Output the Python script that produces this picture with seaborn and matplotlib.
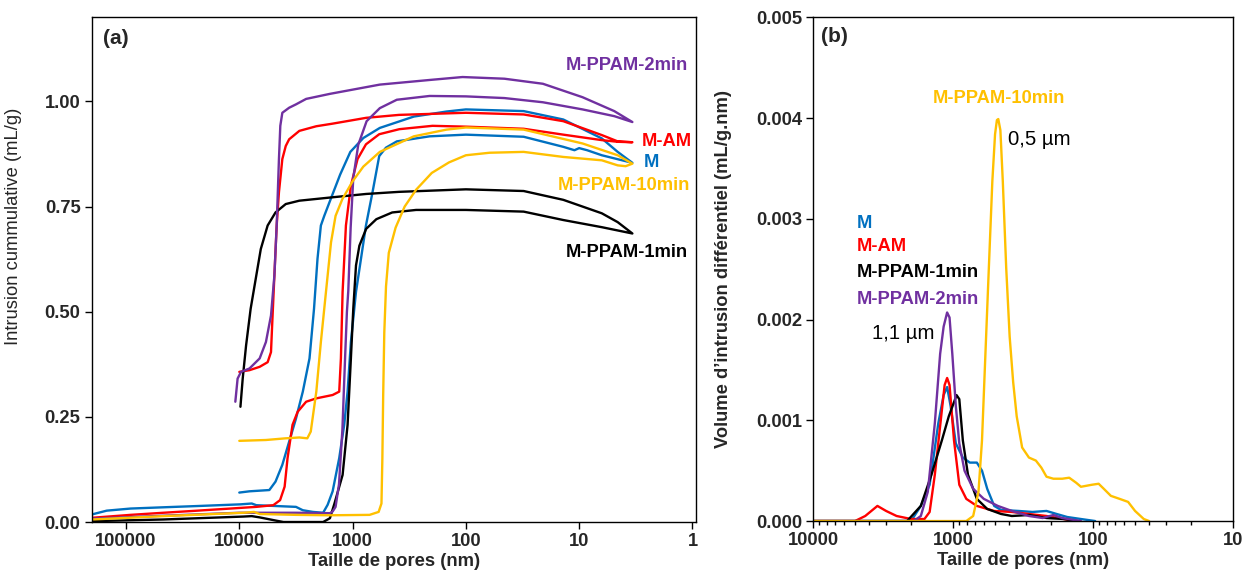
import numpy as np
import pandas as pd
import matplotlib
matplotlib.use("Agg")
import matplotlib.pyplot as plt
import matplotlib.ticker as mticker
import seaborn as sns

# ---------------- data ----------------
samples = ["M", "M-AM", "M-PPAM-1min", "M-PPAM-2min", "M-PPAM-10min"]
colors = ["#0070C0", "#FF0000", "#000000", "#7030A0", "#FFC000"]

# Panel (a) cumulative intrusion (mL/g) vs pore size (nm); intrusion branch then extrusion branch
M_intr_size = [200000, 148000, 91200, 46800, 23400, 9770, 7760, 7080, 3160, 2750, 2240, 1820, 1660, 1500, 1312, 1186,
               1107, 1035, 933, 843, 762, 667, 582, 508, 407, 209, 100, 30.9, 13.8, 11.0, 10.0, 8.51, 6.31, 3.39]
M_intr_val = [.018, .027, .032, .035, .038, .042, .044, .040, .036, .028, .024, .022, .041, .073, .152, .231,
              .31, .428, .547, .626, .705, .784, .87, .89, .905, .917, .921, .916, .892, .884, .889, .884, .872, .854]
M_extr_size = [4.57, 6.31, 13.8, 30.9, 100, 148, 288, 575, 804, 1047, 1288, 1585, 1778, 1905, 2040, 2190, 2400,
               2750, 3160, 3630, 4170, 4790, 5430, 8130, 10000]
M_extr_val = [.88, .912, .957, .977, .981, .976, .964, .937, .913, .88, .826, .763, .728, .705, .626, .507, .389,
              .31, .246, .191, .136, .096, .076, .073, .07]

AM_intr_size = [200000, 91200, 46800, 23400, 12000, 7080, 5010, 4365, 3980, 3750, 3390, 3055, 2570, 2090, 1500, 1312,
                1268, 1225, 1145, 1035, 904, 762, 582, 387, 197, 100, 30.9, 13.8, 6.31, 4.57, 3.39]
AM_intr_val = [.010, .017, .022, .027, .032, .036, .040, .052, .084, .152, .231, .262, .286, .294, .302, .31,
               .389, .547, .705, .80, .863, .898, .922, .934, .942, .94, .935, .921, .908, .904, .903]
AM_extr_size = [4.57, 6.31, 13.8, 30.9, 100, 389, 759, 1514, 2090, 2950, 3630, 3890, 4170, 4467, 4677, 4900, 5130,
                5250, 5620, 6610, 8130, 10000]
AM_extr_val = [.905, .92, .953, .969, .973, .968, .961, .947, .941, .93, .91, .894, .863, .784, .705, .586, .467,
               .404, .38, .369, .361, .357]

P1_intr_size = [200000, 46800, 9120, 7760, 6610, 4677, 4074, 1820, 1585, 1445, 1225, 1107, 1035, 986, 933, 871, 759,
                617, 447, 275, 100, 30.9, 13.8, 6.31, 3.39]
P1_intr_val = [.002, .006, .013, .014, .011, .003, 0, 0, .009, .044, .112, .231, .389, .507, .61, .657, .697,
               .72, .736, .742, .742, .738, .718, .701, .686]
P1_extr_size = [4.57, 6.31, 13.8, 30.9, 100, 389, 759, 1514, 2950, 3890, 4790, 5620, 6460, 7080, 7940, 8710, 9330, 9770]
P1_extr_val = [.713, .734, .766, .787, .791, .785, .78, .772, .764, .756, .736, .705, .649, .586, .507, .42, .341, .274]

P2_intr_size = [200000, 46800, 10000, 3160, 1585, 1500, 1413, 1318, 1230, 1161, 1122, 1091, 1040, 986, 891, 752, 575,
                407, 209, 100, 45.7, 20.9, 9.33, 4.9, 3.39]
P2_intr_val = [.008, .015, .022, .022, .021, .025, .036, .09, .22, .40, .50, .55, .70, .818, .897, .953, .984,
               1.004, 1.013, 1.012, 1.008, .998, .981, .965, .951]
P2_extr_size = [4.9, 9.33, 20.9, 45.7, 107, 209, 575, 1585, 2570, 3160, 3630, 4170, 4345, 4467, 4677, 4900, 5250,
                5820, 6610, 8130, 9660, 10350, 10840]
P2_extr_val = [.977, 1.01, 1.042, 1.054, 1.058, 1.051, 1.04, 1.018, 1.006, .993, .985, .973, .942, .863, .705, .586,
               .491, .428, .389, .365, .357, .341, .286]

P10_intr_size = [200000, 46800, 9120, 7410, 6610, 3160, 1585, 708, 589, 556, 546, 537, 525, 507, 479, 417, 347, 275,
                 200, 141, 100, 61.7, 30.9, 13.8, 6.31, 4.57, 3.89, 3.39]
P10_intr_val = [.006, .014, .022, .024, .019, .017, .016, .017, .024, .044, .15, .30, .45, .56, .64, .70, .75, .79,
                .83, .855, .872, .878, .88, .868, .86, .848, .846, .852]
P10_extr_size = [4.57, 9.33, 30.9, 100, 148, 288, 575, 804, 1000, 1230, 1413, 1550, 1718, 1905, 2090, 2340, 2510,
                 2950, 3890, 5820, 10000]
P10_extr_val = [.872, .90, .933, .938, .933, .917, .88, .845, .81, .768, .728, .665, .547, .428, .31, .215, .199,
                .201, .199, .195, .193]

# Panel (b) differential intrusion (mL/g.nm) vs pore size (nm)
M_diff_size = [10000, 1995, 1698, 1469, 1274, 1167, 1102, 1040, 955, 851, 759, 676, 621, 570, 508, 454, 340, 271,
               215, 182, 153, 122, 96.6]
M_diff_val = [0, 0, .00015, .00036, .00097, .00125, .00133, .00114, .00077, .00063, .00058, .00058, .0005, .00032,
              .00015, .00011, .0001, .00009, .0001, .00007, .00004, .00002, 0]
AM_diff_size = [10000, 5010, 4236, 3467, 3006, 2530, 1995, 1600, 1469, 1349, 1230, 1148, 1102, 1059, 984, 902, 804,
                676, 508, 380, 287, 215, 162, 136]
AM_diff_val = [0, 0, .00005, .00015, .0001, .00005, .00002, .00002, .00009, .00046, .00097, .00135, .00142, .00135,
               .0008, .00036, .00022, .00015, .0001, .00009, .00007, .00005, .00002, 0]
P1_diff_size = [10000, 2128, 1698, 1426, 1202, 1072, 984, 944, 902, 851, 782, 676, 570, 454, 380, 287, 215, 162, 129]
P1_diff_val = [0, 0, .00015, .00046, .0008, .00104, .00118, .00125, .00121, .0008, .00046, .00022, .00012, .00007,
               .00005, .00006, .00003, .00002, 0]
P2_diff_size = [10000, 1905, 1698, 1514, 1349, 1236, 1167, 1102, 1059, 1012, 955, 902, 828, 718, 603, 479, 380, 287,
                229, 192, 166, 136, 122]
P2_diff_val = [0, 0, .00005, .00029, .00097, .00166, .00193, .00207, .00202, .00166, .00114, .00077, .0005, .00032,
               .00022, .00015, .0001, .00005, .00003, .00006, .00003, .00001, 0]
P10_diff_size = [10000, 804, 718, 658, 621, 587, 555, 524, 501, 486, 475, 459, 441, 417, 394, 372, 351, 321, 287,
                 256, 234, 215, 192, 166, 148, 132, 122, 102, 91.2, 83.8, 74.6, 64.6, 56.2, 50.1, 43.4, 39.8]
P10_diff_val = [0, 0, .00005, .00029, .0008, .00166, .00251, .00337, .00384, .00398, .00399, .00388, .00337, .00251,
                .00183, .00138, .00104, .00073, .00063, .0006, .00053, .00044, .00042, .00042, .00043, .00038,
                .00034, .00036, .00037, .00032, .00025, .00022, .00019, .0001, .00002, 0]

a_xticks = [100000, 10000, 1000, 100, 10, 1]
a_xticklabels = ["100000", "10000", "1000", "100", "10", "1"]
a_yticks = [0.0, 0.25, 0.5, 0.75, 1.0]
b_xticks = [10000, 1000, 100, 10]
b_xticklabels = ["10000", "1000", "100", "10"]
b_yticks = [0.0, 0.001, 0.002, 0.003, 0.004, 0.005]

# ---------------- frames ----------------
cum_parts = [
    ("M", M_intr_size + M_extr_size, M_intr_val + M_extr_val),
    ("M-AM", AM_intr_size + AM_extr_size, AM_intr_val + AM_extr_val),
    ("M-PPAM-1min", P1_intr_size + P1_extr_size, P1_intr_val + P1_extr_val),
    ("M-PPAM-2min", P2_intr_size + P2_extr_size, P2_intr_val + P2_extr_val),
    ("M-PPAM-10min", P10_intr_size + P10_extr_size, P10_intr_val + P10_extr_val),
]
df_a = pd.concat([pd.DataFrame({"size": s, "val": v, "sample": n}) for n, s, v in cum_parts], ignore_index=True)

diff_parts = [
    ("M", M_diff_size, M_diff_val),
    ("M-AM", AM_diff_size, AM_diff_val),
    ("M-PPAM-1min", P1_diff_size, P1_diff_val),
    ("M-PPAM-2min", P2_diff_size, P2_diff_val),
    ("M-PPAM-10min", P10_diff_size, P10_diff_val),
]
df_b = pd.concat([pd.DataFrame({"size": s, "val": v, "sample": n}) for n, s, v in diff_parts], ignore_index=True)

palette = dict(zip(samples, colors))

# ---------------- style ----------------
sns.set_theme(style="ticks")
plt.rcParams["font.family"] = ["Liberation Sans", "DejaVu Sans"]
plt.rcParams["axes.edgecolor"] = "black"
plt.rcParams["axes.linewidth"] = 1.0

FS = 13.2
fig = plt.figure(figsize=(12.42, 5.77), dpi=100)
ax1 = fig.add_axes([0.0738, 0.0953, 0.4866, 0.8747])
ax2 = fig.add_axes([0.6546, 0.0970, 0.3382, 0.8730])

sns.lineplot(data=df_a, x="size", y="val", hue="sample", hue_order=samples, palette=palette,
             sort=False, estimator=None, legend=False, linewidth=1.7, ax=ax1)
sns.lineplot(data=df_b, x="size", y="val", hue="sample", hue_order=samples, palette=palette,
             sort=False, estimator=None, legend=False, linewidth=1.7, ax=ax2)

# ---- panel a axes ----
ax1.set_xscale("log")
ax1.set_xlim(201000, 0.93)
ax1.set_ylim(0, 1.2)
ax1.xaxis.set_minor_locator(mticker.NullLocator())
ax1.set_xticks(a_xticks, a_xticklabels, fontsize=FS, fontweight="bold")
ax1.set_yticks(a_yticks, [f"{t:.2f}" for t in a_yticks], fontsize=FS, fontweight="bold")
ax1.tick_params(axis="both", which="major", direction="out", length=5, width=1, color="black", pad=3)
ax1.set_xlabel("Taille de pores (nm)", fontsize=FS, fontweight="bold", labelpad=2)
ax1.set_ylabel("Intrusion cummulative (mL/g)", fontsize=FS)
ax1.yaxis.set_label_coords(-0.115, 0.585)
for sp in ax1.spines.values():
    sp.set_visible(True)

ax1.text(0.018, 0.958, "(a)", transform=ax1.transAxes, fontsize=15, fontweight="bold", va="center", ha="left")
tr = ax1.get_yaxis_transform()
ax1.text(0.987, 1.085, "M-PPAM-2min", transform=tr, color=colors[3], fontsize=FS, fontweight="bold", ha="right", va="center")
ax1.text(0.910, 0.905, "M-AM", transform=tr, color=colors[1], fontsize=FS, fontweight="bold", ha="left", va="center")
ax1.text(0.914, 0.854, "M", transform=tr, color=colors[0], fontsize=FS, fontweight="bold", ha="left", va="center")
ax1.text(0.990, 0.799, "M-PPAM-10min", transform=tr, color=colors[4], fontsize=FS, fontweight="bold", ha="right", va="center")
ax1.text(0.987, 0.641, "M-PPAM-1min", transform=tr, color=colors[2], fontsize=FS, fontweight="bold", ha="right", va="center")

# ---- panel b axes ----
ax2.set_xscale("log")
ax2.set_xlim(10000, 10)
ax2.set_ylim(0, 0.005)
ax2.xaxis.set_minor_locator(mticker.LogLocator(base=10, subs=np.arange(2, 10)))
ax2.xaxis.set_minor_formatter(mticker.NullFormatter())
ax2.set_xticks(b_xticks, b_xticklabels, fontsize=FS, fontweight="bold")
ax2.set_yticks(b_yticks, [f"{t:.3f}" for t in b_yticks], fontsize=FS, fontweight="bold")
ax2.tick_params(axis="both", which="major", direction="out", length=5, width=1, color="black", pad=3)
ax2.tick_params(axis="x", which="minor", direction="out", length=3, width=1, color="black")
ax2.set_xlabel("Taille de pores (nm)", fontsize=FS, fontweight="bold", labelpad=2)
ax2.set_ylabel("Volume d\u2019intrusion différentiel (mL/g.nm)", fontsize=FS, fontweight="bold")
ax2.yaxis.set_label_coords(-0.194, 0.5)
for sp in ax2.spines.values():
    sp.set_visible(True)

ax2.text(0.018, 0.961, "(b)", transform=ax2.transAxes, fontsize=15, fontweight="bold", va="center", ha="left")
ax2.text(0.442, 0.838, "M-PPAM-10min", transform=ax2.transAxes, color=colors[4], fontsize=FS, fontweight="bold", ha="center", va="center")
ax2.text(0.465, 0.757, "0,5 µm", transform=ax2.transAxes, color="black", fontsize=14.7, ha="left", va="center")
ax2.text(0.104, 0.590, "M", transform=ax2.transAxes, color=colors[0], fontsize=FS, fontweight="bold", ha="left", va="center")
ax2.text(0.104, 0.545, "M-AM", transform=ax2.transAxes, color=colors[1], fontsize=FS, fontweight="bold", ha="left", va="center")
ax2.text(0.104, 0.493, "M-PPAM-1min", transform=ax2.transAxes, color=colors[2], fontsize=FS, fontweight="bold", ha="left", va="center")
ax2.text(0.104, 0.440, "M-PPAM-2min", transform=ax2.transAxes, color=colors[3], fontsize=FS, fontweight="bold", ha="left", va="center")
ax2.text(0.141, 0.372, "1,1 µm", transform=ax2.transAxes, color="black", fontsize=14.7, ha="left", va="center")

fig.savefig("out.png", dpi=100)
